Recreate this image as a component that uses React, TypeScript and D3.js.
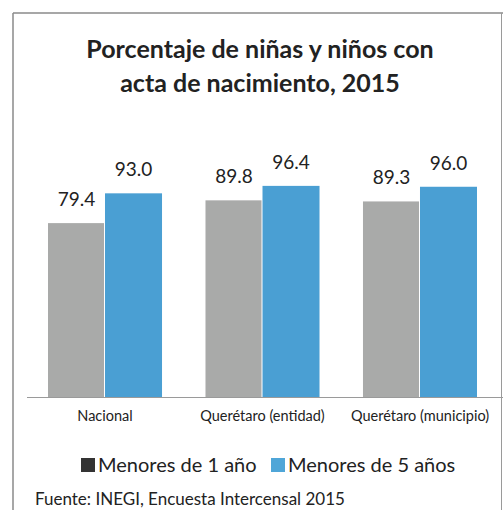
import React from "react";
import * as d3 from "d3";

const categories = ["Nacional", "Querétaro (entidad)", "Querétaro (municipio)"];
const seriesNames = ["Menores de 1 año", "Menores de 5 años"];
const menores1 = [79.4, 89.8, 89.3];
const menores5 = [93.0, 96.4, 96.0];
const colors = ["#a9aaa9", "#4a9fd3"];
const legendColors = ["#333333", "#4fa6d8"];

const W = 503;
const H = 510;
const font = "Lato, 'Open Sans', sans-serif";

export default function App() {
  const x0 = d3.scaleBand<string>().domain(categories).range([48, 477]).paddingInner(0.276).paddingOuter(0);
  const x1 = d3.scaleBand<string>().domain(seriesNames).range([0, x0.bandwidth()]).padding(0);
  const y = d3.scaleLinear().domain([0, 100]).range([397, 178]);
  const series = [menores1, menores5];

  return (
    <svg width={W} height={H} style={{ position: "absolute", left: 0, top: 0, background: "#fff" }} fontFamily={font}>
      <rect x={0} y={0} width={W} height={H} fill="#ffffff" />
      {/* frame */}
      <line x1={13} y1={13} x2={W} y2={13} stroke="#8a8a8a" strokeWidth={1.5} />
      <line x1={13} y1={13} x2={13} y2={H} stroke="#8a8a8a" strokeWidth={1.5} />
      <line x1={501.5} y1={13} x2={501.5} y2={H} stroke="#9a9a9a" strokeWidth={1} />
      {/* title */}
      <text x={260} y={58} textAnchor="middle" fontSize={25} fontWeight={700} fill="#222">Porcentaje de niñas y niños con</text>
      <text x={260} y={92} textAnchor="middle" fontSize={25} fontWeight={700} fill="#222">acta de nacimiento, 2015</text>
      {/* bars */}
      {categories.map((c, ci) => (
        <g key={c} transform={`translate(${x0(c)},0)`}>
          {series.map((s, si) => (
            <g key={si}>
              <rect x={x1(seriesNames[si])} y={y(s[ci])} width={x1.bandwidth() - (si === 0 ? 1 : 0)} height={y(0) - y(s[ci])} fill={colors[si]} />
              <text x={(x1(seriesNames[si]) as number) + x1.bandwidth() / 2} y={y(s[ci]) - 17} textAnchor="middle" fontSize={19} fill="#222">
                {s[ci].toFixed(1)}
              </text>
            </g>
          ))}
        </g>
      ))}
      {/* axis */}
      <line x1={27} y1={397.5} x2={W} y2={397.5} stroke="#9a9a9a" strokeWidth={1} />
      {categories.map((c) => (
        <text key={c} x={(x0(c) as number) + x0.bandwidth() / 2} y={421} textAnchor="middle" fontSize={14.5} fill="#222">{c}</text>
      ))}
      {/* legend */}
      <rect x={81} y={458} width={14} height={14} fill={legendColors[0]} />
      <text x={98} y={472} fontSize={20} fill="#222">{seriesNames[0]}</text>
      <rect x={271} y={458} width={14} height={14} fill={legendColors[1]} />
      <text x={288} y={472} fontSize={20} fill="#222">{seriesNames[1]}</text>
      {/* source */}
      <text x={35} y={505} fontSize={17} fill="#222">Fuente: INEGI, Encuesta Intercensal 2015</text>
    </svg>
  );
}
